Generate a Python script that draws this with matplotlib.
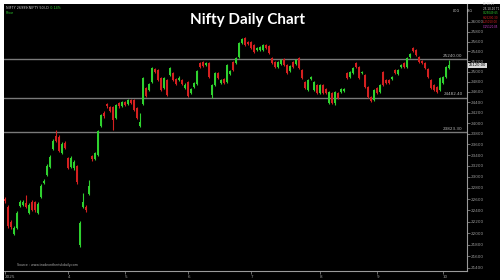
import numpy as np
import matplotlib.pyplot as plt
from matplotlib.ticker import FixedLocator, NullLocator, FuncFormatter
from matplotlib.patches import Rectangle

# daily OHLC (Nifty, Feb-Oct)
opens = [22601, 22459, 22193, 21983, 22088, 22476, 22494, 22529, 22352, 22547,
         22547, 22352, 22637, 22889, 23035, 23181, 23514, 23757, 23738, 23440,
         23625, 23347, 23181, 23163, 23200, 21793, 22459, 22459, 22691, 23384,
         23329, 23403, 23945, 24193, 24367, 24309, 24309, 24097, 24386, 24328,
         24405, 24367, 24444, 24444, 24289, 23945, 24367, 24677, 24638, 24794,
         25050, 25030, 24873, 24677, 24833,
         24932, 24971, 24853, 24833, 24833, 24677, 24794, 24580, 24697, 24755,
         25170, 25190, 25130, 25170, 24541, 24736, 24971, 24775, 24853, 24794,
         24952, 25190, 25170, 25290, 25572, 25673, 25592, 25592, 25532, 25431,
         25431, 25431, 25532, 25511, 25270, 25190, 25090, 25150, 25250, 25130,
         25011, 25190, 25150, 25270, 25030, 24794, 24638, 24853, 24638, 24736,
         24580, 24736, 24658, 24386, 24580, 24386, 24580, 24599, 24619, 24971,
         24892, 24971, 25170, 25090, 24971, 24932, 24697, 24502, 24444, 24677,
         24599, 24991, 24833, 24833, 24853, 25030, 24952, 25090, 25170, 25090,
         25290, 25471, 25431, 25290, 25210, 25170, 25050, 24833, 24736, 24697,
         24638, 24775, 24892, 25070]
highs = [22637, 22494, 22230, 22123, 22388, 22583, 22583, 22673, 22529, 22583,
         22565, 22547, 22871, 22962, 23236, 23403, 23700, 23870, 23775, 23644,
         23663, 23366, 23384, 23310, 23218, 22211, 22709, 22494, 22943, 23403,
         23458, 23870, 24174, 24231, 24386, 24328, 24328, 24367, 24405, 24425,
         24425, 24463, 24463, 24463, 24309, 24193, 24892, 24697, 24775, 25090,
         25070, 25050, 24892, 24892, 24853,
         25090, 24991, 24873, 24912, 24853, 24775, 24814, 24677, 24794, 25030,
         25190, 25210, 25190, 25190, 24755, 24991, 24991, 24853, 24873, 25150,
         25030, 25210, 25290, 25592, 25673, 25693, 25612, 25612, 25552, 25491,
         25511, 25552, 25552, 25532, 25290, 25210, 25210, 25250, 25270, 25150,
         25130, 25210, 25250, 25290, 25050, 24814, 24853, 24912, 24814, 24755,
         24755, 24755, 24677, 24619, 24599, 24619, 24599, 24677, 24677, 24991,
         25011, 25090, 25190, 25110, 25011, 24952, 24716, 24522, 24658, 24697,
         24755, 25011, 24853, 24853, 24912, 25050, 25050, 25150, 25190, 25290,
         25370, 25491, 25451, 25310, 25230, 25190, 25070, 24853, 24755, 24716,
         24892, 24912, 25110, 25230]
lows = [22529, 22088, 22071, 21966, 22071, 22459, 22476, 22441, 22334, 22388,
        22370, 22334, 22619, 22871, 23016, 23163, 23495, 23644, 23458, 23421,
        23514, 23144, 23163, 23126, 22871, 21759, 22441, 22370, 22673, 23292,
        23310, 23384, 23926, 24097, 24289, 24212, 23870, 24078, 24289, 24309,
        24328, 24347, 24367, 24231, 24078, 23926, 24347, 24502, 24619, 24775,
        24971, 24814, 24619, 24658, 24522,
        24912, 24814, 24736, 24814, 24736, 24658, 24502, 24560, 24677, 24736,
        25070, 25090, 25110, 24873, 24483, 24716, 24853, 24755, 24755, 24775,
        24932, 25011, 25150, 25270, 25552, 25511, 25532, 25451, 25370, 25410,
        25410, 25410, 25451, 25350, 25150, 25070, 25070, 25130, 25110, 24952,
        24991, 25070, 25130, 25050, 24853, 24658, 24619, 24833, 24619, 24560,
        24560, 24560, 24560, 24367, 24367, 24347, 24463, 24580, 24599, 24853,
        24873, 24952, 25070, 24853, 24952, 24677, 24483, 24405, 24425, 24560,
        24580, 24716, 24755, 24755, 24833, 24952, 24932, 25070, 25070, 25070,
        25270, 25390, 25310, 25170, 25150, 25050, 24873, 24658, 24619, 24580,
        24619, 24755, 24873, 25050]
closes = [22565, 22123, 22106, 22088, 22352, 22547, 22547, 22459, 22494, 22405,
          22405, 22512, 22835, 22925, 23200, 23366, 23663, 23663, 23477, 23607,
          23532, 23163, 23347, 23273, 22907, 22176, 22547, 22405, 22835, 23329,
          23440, 23851, 24155, 24136, 24328, 24231, 24059, 24347, 24328, 24405,
          24347, 24444, 24386, 24251, 24097, 24021, 24873, 24522, 24755, 25070,
          24991, 24833, 24638, 24873, 24541,
          25070, 24833, 24755, 24873, 24755, 24736, 24522, 24658, 24775, 25011,
          25090, 25110, 25170, 24892, 24736, 24971, 24873, 24833, 24775, 25130,
          25011, 25030, 25270, 25572, 25653, 25532, 25552, 25471, 25390, 25471,
          25491, 25532, 25471, 25370, 25170, 25090, 25190, 25230, 25130, 24971,
          25110, 25090, 25230, 25070, 24873, 24677, 24833, 24892, 24794, 24580,
          24736, 24580, 24580, 24599, 24386, 24599, 24483, 24658, 24658, 24873,
          24991, 25070, 25090, 24873, 24991, 24697, 24502, 24425, 24638, 24580,
          24736, 24736, 24775, 24775, 24892, 24971, 25030, 25130, 25090, 25270,
          25350, 25410, 25330, 25190, 25170, 25070, 24892, 24677, 24638, 24599,
          24873, 24892, 25090, 25120]

levels = [25240.00, 24482.40, 23823.30]
price_ticks = list(range(21400, 26001, 200))
month_pos = [0, 21, 40, 61, 82, 105, 124, 146]
month_labels = ['2025', '4', '5', '6', '7', '8', '9', '10']

UP = '#2fd12f'
DOWN = '#d42020'
AXC = '#9a9a9a'

fig = plt.figure(figsize=(5, 2.8), dpi=100, facecolor='black')
# thin white margin on the top and left edge
fig.patches.append(Rectangle((0, 276 / 280), 1, 4 / 280, transform=fig.transFigure,
                             facecolor='white', edgecolor='none', zorder=-5))
fig.patches.append(Rectangle((0, 0), 4 / 500, 1, transform=fig.transFigure,
                             facecolor='white', edgecolor='none', zorder=-5))
ax = fig.add_axes([4 / 500, 9 / 280, 463 / 500, 267 / 280])
ax.set_facecolor('black')

x = np.arange(len(opens))
o = np.array(opens, float)
c = np.array(closes, float)
up = c >= o
cols = np.where(up, UP, DOWN)

ax.vlines(x, lows, highs, colors=cols, linewidth=0.8, zorder=3)
ax.bar(x, np.abs(c - o) + 8, bottom=np.minimum(o, c) - 4, width=0.7,
       color=cols, linewidth=0, zorder=4)

for lv in levels:
    ax.axhline(lv, color='#7a7a7a', linewidth=1.0, zorder=2)
    ax.text(152.5, lv * 1.0012, f'{lv:.2f}', color='#b8b8b8', fontsize=3,
            ha='right', va='bottom', zorder=5)

ax.set_yscale('log')
ax.set_ylim(21349, 26373)
ax.set_xlim(-0.33, 154.0)

ax.yaxis.tick_right()
ax.yaxis.set_major_locator(FixedLocator(price_ticks))
ax.yaxis.set_minor_locator(NullLocator())
ax.yaxis.set_major_formatter(FuncFormatter(lambda v, p: f'{v:.0f}'))
ax.set_xticks(month_pos)
ax.set_xticklabels(month_labels)
ax.tick_params(axis='y', colors=AXC, labelsize=3, length=2, width=0.5, pad=1)
ax.tick_params(axis='x', colors=AXC, labelsize=3, length=2, width=0.5, pad=1)
for lab in ax.get_xticklabels():
    lab.set_horizontalalignment('left')

for s in ['top', 'left']:
    ax.spines[s].set_visible(False)
for s in ['right', 'bottom']:
    ax.spines[s].set_color(AXC)
    ax.spines[s].set_linewidth(0.8)

# current price marker on the right axis
ax.annotate(f'{closes[-1]:.2f}', xy=(1.004, closes[-1]),
            xycoords=('axes fraction', 'data'), fontsize=2.6, color='black',
            va='center', ha='left', zorder=6,
            bbox=dict(boxstyle='square,pad=0.2', fc='#d8d8d8', ec='none'))

fig.text(0.496, 0.93, 'Nifty Daily Chart', color='white', fontsize=11,
         fontweight='bold', family='Lato', ha='center', va='center')
fig.text(0.012, 0.972, 'NIFTY 26999(NIFTY 50),D', color='#c8c8c8',
         fontsize=2.4, va='center')
fig.text(0.1, 0.972, '-0.14%', color=UP, fontsize=2.4, va='center')
fig.text(0.012, 0.955, 'Price', color=UP, fontsize=2.4, va='center')
fig.text(0.034, 0.053, 'Source : www.tradeontheriskdaily.com', color='#aaaaaa',
         fontsize=2.3, va='center')
fig.text(0.905, 0.962, 'LOG', color='#c8c8c8', fontsize=2.4, va='center')
fig.text(0.934, 0.962, 'BIG', color='#c8c8c8', fontsize=2.4, va='center')

info = [('10-10-25', '#d0d0d0'), ('25-10-10 T1', '#d0d0d0'), ('O:25049.65', UP),
        ('H:25200.30', DOWN), ('L:25010.00', DOWN), ('C:25120.05', '#d040d0')]
for i, (t, col) in enumerate(info):
    fig.text(0.966, 0.984 - i * 0.016, t, color=col, fontsize=2.0, va='center')

fig.savefig('out.png', dpi=100, facecolor=fig.get_facecolor())
